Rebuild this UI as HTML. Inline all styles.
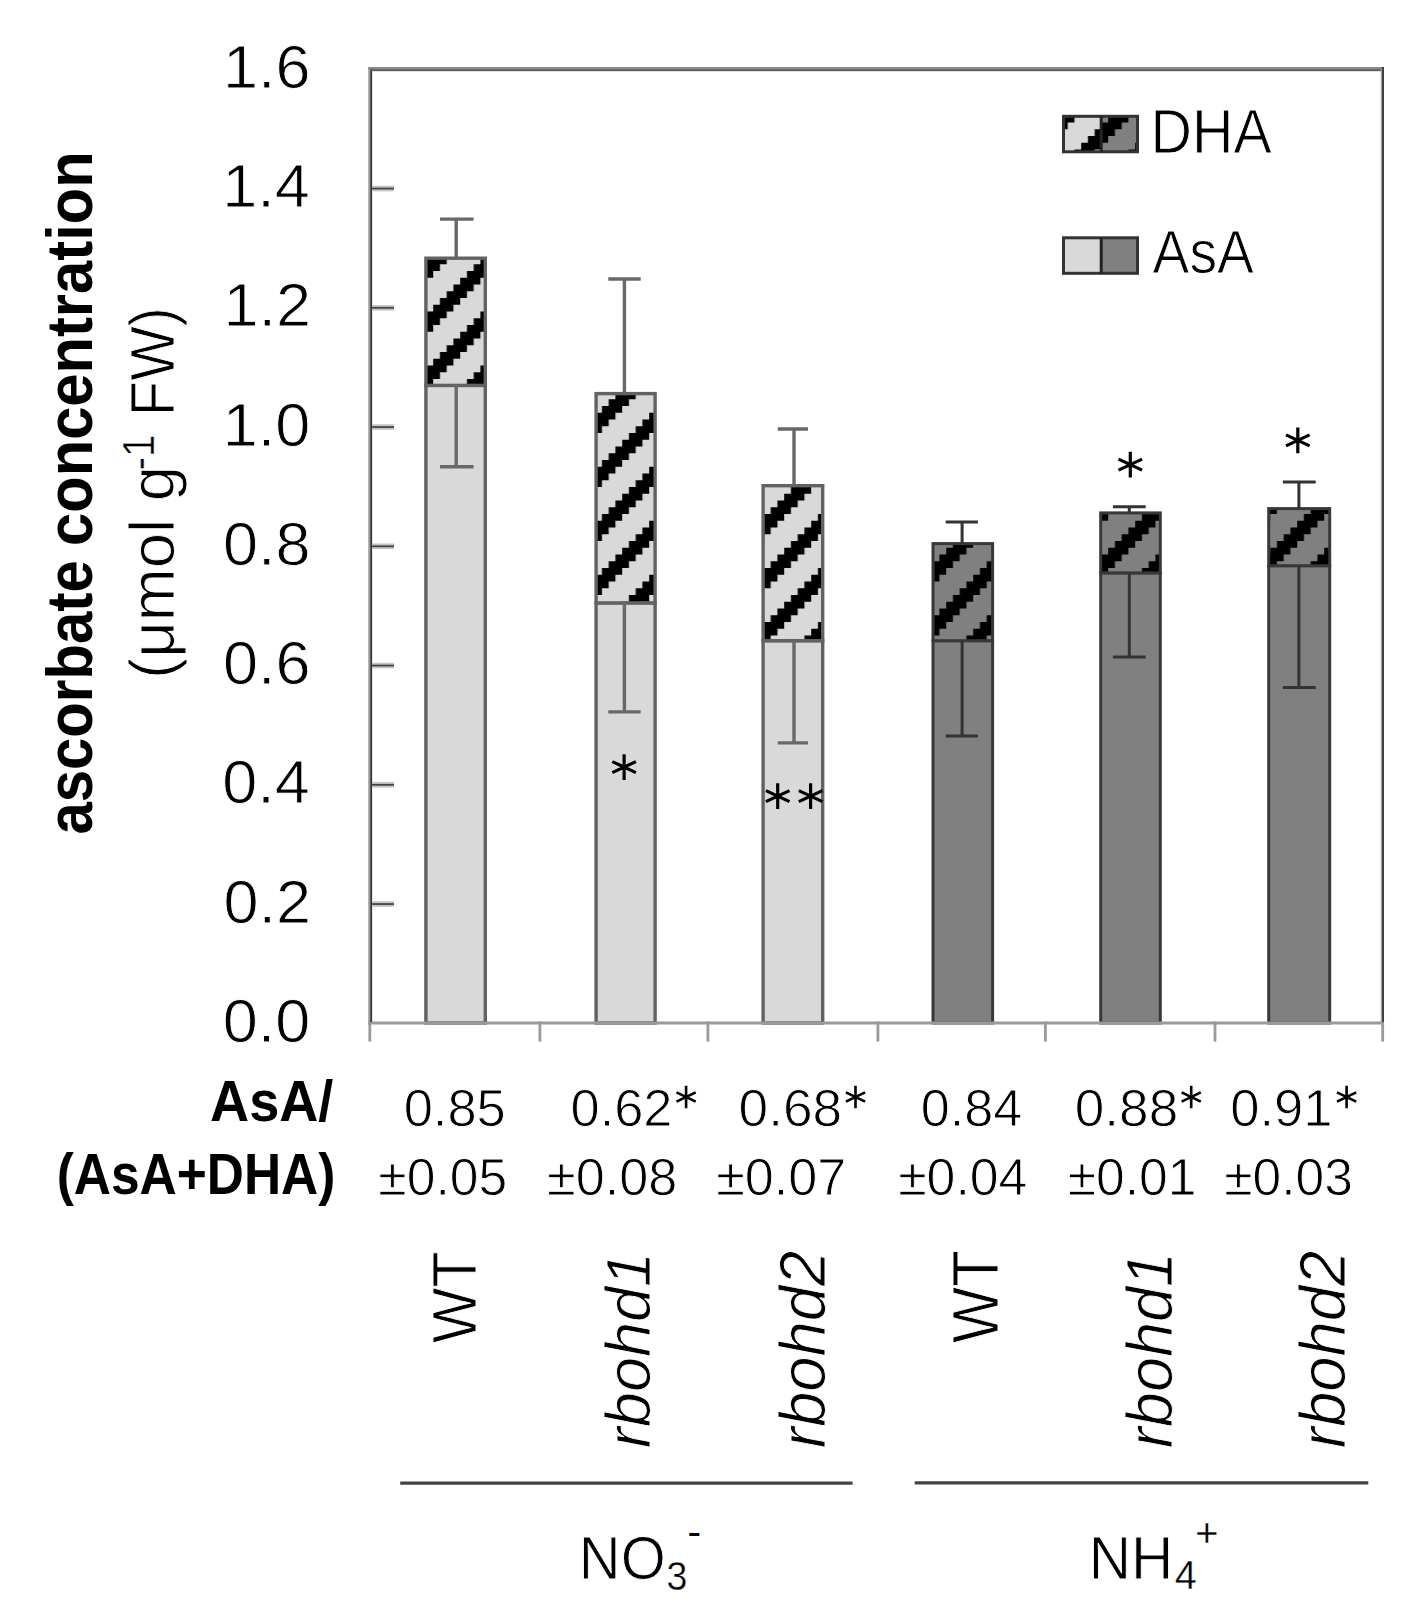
<!DOCTYPE html>
<html><head><meta charset="utf-8"><style>
html,body{margin:0;padding:0;background:#fff;}
svg{display:block;}
text{font-family:"Liberation Sans",sans-serif;font-kerning:none;font-variant-ligatures:none;}
</style></head><body>
<svg width="1414" height="1624" viewBox="0 0 1414 1624">
<rect width="1414" height="1624" fill="#fff"/>
<defs><pattern id="pl" patternUnits="userSpaceOnUse" x="1.2" y="1" width="54" height="54"><rect width="54" height="54" fill="#d9d9d9"/><path d="M13.50 -13.50L13.50 -6.75L6.75 -6.75L6.75 0.00L0.00 0.00L0.00 6.75L-6.75 6.75L-6.75 13.50L-13.50 13.50L-13.50 20.25L-20.25 20.25L-20.25 27.00L-27.00 27.00L-27.00 33.75L-33.75 33.75L-33.75 40.50L-40.50 40.50L-40.50 47.25L-47.25 47.25L-47.25 54.00L-54.00 54.00L-54.00 60.75L-60.75 60.75L-60.75 67.50L-67.50 67.50L-67.50 74.25L-87.75 74.25L-87.75 67.50L-81.00 67.50L-81.00 60.75L-74.25 60.75L-74.25 54.00L-67.50 54.00L-67.50 47.25L-60.75 47.25L-60.75 40.50L-54.00 40.50L-54.00 33.75L-47.25 33.75L-47.25 27.00L-40.50 27.00L-40.50 20.25L-33.75 20.25L-33.75 13.50L-27.00 13.50L-27.00 6.75L-20.25 6.75L-20.25 0.00L-13.50 0.00L-13.50 -6.75L-6.75 -6.75L-6.75 -13.50ZM67.50 -13.50L67.50 -6.75L60.75 -6.75L60.75 0.00L54.00 0.00L54.00 6.75L47.25 6.75L47.25 13.50L40.50 13.50L40.50 20.25L33.75 20.25L33.75 27.00L27.00 27.00L27.00 33.75L20.25 33.75L20.25 40.50L13.50 40.50L13.50 47.25L6.75 47.25L6.75 54.00L0.00 54.00L0.00 60.75L-6.75 60.75L-6.75 67.50L-13.50 67.50L-13.50 74.25L-33.75 74.25L-33.75 67.50L-27.00 67.50L-27.00 60.75L-20.25 60.75L-20.25 54.00L-13.50 54.00L-13.50 47.25L-6.75 47.25L-6.75 40.50L0.00 40.50L0.00 33.75L6.75 33.75L6.75 27.00L13.50 27.00L13.50 20.25L20.25 20.25L20.25 13.50L27.00 13.50L27.00 6.75L33.75 6.75L33.75 0.00L40.50 0.00L40.50 -6.75L47.25 -6.75L47.25 -13.50ZM121.50 -13.50L121.50 -6.75L114.75 -6.75L114.75 0.00L108.00 0.00L108.00 6.75L101.25 6.75L101.25 13.50L94.50 13.50L94.50 20.25L87.75 20.25L87.75 27.00L81.00 27.00L81.00 33.75L74.25 33.75L74.25 40.50L67.50 40.50L67.50 47.25L60.75 47.25L60.75 54.00L54.00 54.00L54.00 60.75L47.25 60.75L47.25 67.50L40.50 67.50L40.50 74.25L20.25 74.25L20.25 67.50L27.00 67.50L27.00 60.75L33.75 60.75L33.75 54.00L40.50 54.00L40.50 47.25L47.25 47.25L47.25 40.50L54.00 40.50L54.00 33.75L60.75 33.75L60.75 27.00L67.50 27.00L67.50 20.25L74.25 20.25L74.25 13.50L81.00 13.50L81.00 6.75L87.75 6.75L87.75 0.00L94.50 0.00L94.50 -6.75L101.25 -6.75L101.25 -13.50ZM175.50 -13.50L175.50 -6.75L168.75 -6.75L168.75 0.00L162.00 0.00L162.00 6.75L155.25 6.75L155.25 13.50L148.50 13.50L148.50 20.25L141.75 20.25L141.75 27.00L135.00 27.00L135.00 33.75L128.25 33.75L128.25 40.50L121.50 40.50L121.50 47.25L114.75 47.25L114.75 54.00L108.00 54.00L108.00 60.75L101.25 60.75L101.25 67.50L94.50 67.50L94.50 74.25L74.25 74.25L74.25 67.50L81.00 67.50L81.00 60.75L87.75 60.75L87.75 54.00L94.50 54.00L94.50 47.25L101.25 47.25L101.25 40.50L108.00 40.50L108.00 33.75L114.75 33.75L114.75 27.00L121.50 27.00L121.50 20.25L128.25 20.25L128.25 13.50L135.00 13.50L135.00 6.75L141.75 6.75L141.75 0.00L148.50 0.00L148.50 -6.75L155.25 -6.75L155.25 -13.50Z" fill="#000"/></pattern><pattern id="pd" patternUnits="userSpaceOnUse" x="1.2" y="1" width="54" height="54"><rect width="54" height="54" fill="#808080"/><path d="M13.50 -13.50L13.50 -6.75L6.75 -6.75L6.75 0.00L0.00 0.00L0.00 6.75L-6.75 6.75L-6.75 13.50L-13.50 13.50L-13.50 20.25L-20.25 20.25L-20.25 27.00L-27.00 27.00L-27.00 33.75L-33.75 33.75L-33.75 40.50L-40.50 40.50L-40.50 47.25L-47.25 47.25L-47.25 54.00L-54.00 54.00L-54.00 60.75L-60.75 60.75L-60.75 67.50L-67.50 67.50L-67.50 74.25L-87.75 74.25L-87.75 67.50L-81.00 67.50L-81.00 60.75L-74.25 60.75L-74.25 54.00L-67.50 54.00L-67.50 47.25L-60.75 47.25L-60.75 40.50L-54.00 40.50L-54.00 33.75L-47.25 33.75L-47.25 27.00L-40.50 27.00L-40.50 20.25L-33.75 20.25L-33.75 13.50L-27.00 13.50L-27.00 6.75L-20.25 6.75L-20.25 0.00L-13.50 0.00L-13.50 -6.75L-6.75 -6.75L-6.75 -13.50ZM67.50 -13.50L67.50 -6.75L60.75 -6.75L60.75 0.00L54.00 0.00L54.00 6.75L47.25 6.75L47.25 13.50L40.50 13.50L40.50 20.25L33.75 20.25L33.75 27.00L27.00 27.00L27.00 33.75L20.25 33.75L20.25 40.50L13.50 40.50L13.50 47.25L6.75 47.25L6.75 54.00L0.00 54.00L0.00 60.75L-6.75 60.75L-6.75 67.50L-13.50 67.50L-13.50 74.25L-33.75 74.25L-33.75 67.50L-27.00 67.50L-27.00 60.75L-20.25 60.75L-20.25 54.00L-13.50 54.00L-13.50 47.25L-6.75 47.25L-6.75 40.50L0.00 40.50L0.00 33.75L6.75 33.75L6.75 27.00L13.50 27.00L13.50 20.25L20.25 20.25L20.25 13.50L27.00 13.50L27.00 6.75L33.75 6.75L33.75 0.00L40.50 0.00L40.50 -6.75L47.25 -6.75L47.25 -13.50ZM121.50 -13.50L121.50 -6.75L114.75 -6.75L114.75 0.00L108.00 0.00L108.00 6.75L101.25 6.75L101.25 13.50L94.50 13.50L94.50 20.25L87.75 20.25L87.75 27.00L81.00 27.00L81.00 33.75L74.25 33.75L74.25 40.50L67.50 40.50L67.50 47.25L60.75 47.25L60.75 54.00L54.00 54.00L54.00 60.75L47.25 60.75L47.25 67.50L40.50 67.50L40.50 74.25L20.25 74.25L20.25 67.50L27.00 67.50L27.00 60.75L33.75 60.75L33.75 54.00L40.50 54.00L40.50 47.25L47.25 47.25L47.25 40.50L54.00 40.50L54.00 33.75L60.75 33.75L60.75 27.00L67.50 27.00L67.50 20.25L74.25 20.25L74.25 13.50L81.00 13.50L81.00 6.75L87.75 6.75L87.75 0.00L94.50 0.00L94.50 -6.75L101.25 -6.75L101.25 -13.50ZM175.50 -13.50L175.50 -6.75L168.75 -6.75L168.75 0.00L162.00 0.00L162.00 6.75L155.25 6.75L155.25 13.50L148.50 13.50L148.50 20.25L141.75 20.25L141.75 27.00L135.00 27.00L135.00 33.75L128.25 33.75L128.25 40.50L121.50 40.50L121.50 47.25L114.75 47.25L114.75 54.00L108.00 54.00L108.00 60.75L101.25 60.75L101.25 67.50L94.50 67.50L94.50 74.25L74.25 74.25L74.25 67.50L81.00 67.50L81.00 60.75L87.75 60.75L87.75 54.00L94.50 54.00L94.50 47.25L101.25 47.25L101.25 40.50L108.00 40.50L108.00 33.75L114.75 33.75L114.75 27.00L121.50 27.00L121.50 20.25L128.25 20.25L128.25 13.50L135.00 13.50L135.00 6.75L141.75 6.75L141.75 0.00L148.50 0.00L148.50 -6.75L155.25 -6.75L155.25 -13.50Z" fill="#000"/></pattern></defs>
<rect x="425.90" y="385.40" width="59.40" height="637.60" fill="#d9d9d9" stroke="#626262" stroke-width="3.4"/>
<rect x="425.90" y="258.20" width="59.40" height="127.20" fill="url(#pl)" stroke="#626262" stroke-width="3.4"/>
<path d="M456.20 258.20V219.10M440.00 219.10H473.60M456.20 385.40V466.80M440.00 466.80H473.60" stroke="#686868" stroke-width="3.4" fill="none"/>
<rect x="596.10" y="602.90" width="59.00" height="420.10" fill="#d9d9d9" stroke="#626262" stroke-width="3.4"/>
<rect x="596.10" y="393.60" width="59.00" height="209.30" fill="url(#pl)" stroke="#626262" stroke-width="3.4"/>
<path d="M624.40 393.60V279.00M608.30 279.00H640.70M624.40 602.90V711.90M608.30 711.90H640.70" stroke="#686868" stroke-width="3.4" fill="none"/>
<rect x="763.10" y="640.70" width="59.60" height="382.30" fill="#d9d9d9" stroke="#626262" stroke-width="3.4"/>
<rect x="763.10" y="485.70" width="59.60" height="155.00" fill="url(#pl)" stroke="#626262" stroke-width="3.4"/>
<path d="M794.00 485.70V429.00M777.80 429.00H808.00M794.00 640.70V742.90M777.80 742.90H808.00" stroke="#686868" stroke-width="3.4" fill="none"/>
<rect x="933.00" y="640.70" width="59.60" height="382.30" fill="#808080" stroke="#383838" stroke-width="3.0"/>
<rect x="933.00" y="543.60" width="59.60" height="97.10" fill="url(#pd)" stroke="#383838" stroke-width="3.0"/>
<path d="M962.10 543.60V522.10M945.70 522.10H977.90M962.10 640.70V736.10M945.70 736.10H977.90" stroke="#333" stroke-width="3.0" fill="none"/>
<rect x="1100.70" y="572.90" width="59.60" height="450.10" fill="#808080" stroke="#383838" stroke-width="3.0"/>
<rect x="1100.70" y="512.90" width="59.60" height="60.00" fill="url(#pd)" stroke="#383838" stroke-width="3.0"/>
<path d="M1129.30 512.90V506.70M1112.90 506.70H1145.70M1129.30 572.90V657.10M1112.90 657.10H1145.70" stroke="#333" stroke-width="3.0" fill="none"/>
<rect x="1268.70" y="565.70" width="61.00" height="457.30" fill="#808080" stroke="#383838" stroke-width="3.0"/>
<rect x="1268.70" y="508.60" width="61.00" height="57.10" fill="url(#pd)" stroke="#383838" stroke-width="3.0"/>
<path d="M1298.90 508.60V482.10M1282.90 482.10H1315.70M1298.90 565.70V687.40M1282.90 687.40H1315.70" stroke="#333" stroke-width="3.0" fill="none"/>
<rect x="368.20" y="1021.50" width="1015.80" height="3.00" fill="#9a9a9a"/>
<rect x="368.40" y="1021.50" width="2.80" height="20.10" fill="#9a9a9a"/>
<rect x="538.50" y="1021.50" width="2.80" height="20.10" fill="#9a9a9a"/>
<rect x="706.50" y="1021.50" width="2.80" height="20.10" fill="#9a9a9a"/>
<rect x="876.50" y="1021.50" width="2.80" height="20.10" fill="#9a9a9a"/>
<rect x="1044.00" y="1021.50" width="2.80" height="20.10" fill="#9a9a9a"/>
<rect x="1213.60" y="1021.50" width="2.80" height="20.10" fill="#9a9a9a"/>
<rect x="1381.30" y="1021.50" width="2.80" height="20.10" fill="#9a9a9a"/>
<rect x="368.20" y="67.00" width="2.00" height="955.00" fill="#a0a0a0"/>
<rect x="370.20" y="67.00" width="1.90" height="955.00" fill="#333"/>
<rect x="368.20" y="67.00" width="1015.80" height="2.10" fill="#8a8a8a"/>
<rect x="370.20" y="69.10" width="1013.80" height="2.10" fill="#5e5e5e"/>
<rect x="1380.80" y="69.10" width="1.10" height="952.90" fill="#aaa"/>
<rect x="1381.90" y="67.00" width="2.10" height="955.00" fill="#404040"/>
<rect x="372.10" y="185.75" width="21.90" height="5.60" fill="#c4c4c4"/>
<rect x="372.10" y="187.70" width="21.90" height="1.70" fill="#404040"/>
<rect x="372.10" y="305.00" width="21.90" height="5.60" fill="#c4c4c4"/>
<rect x="372.10" y="306.95" width="21.90" height="1.70" fill="#404040"/>
<rect x="372.10" y="424.25" width="21.90" height="5.60" fill="#c4c4c4"/>
<rect x="372.10" y="426.20" width="21.90" height="1.70" fill="#404040"/>
<rect x="372.10" y="543.50" width="21.90" height="5.60" fill="#c4c4c4"/>
<rect x="372.10" y="545.45" width="21.90" height="1.70" fill="#404040"/>
<rect x="372.10" y="662.75" width="21.90" height="5.60" fill="#c4c4c4"/>
<rect x="372.10" y="664.70" width="21.90" height="1.70" fill="#404040"/>
<rect x="372.10" y="782.00" width="21.90" height="5.60" fill="#c4c4c4"/>
<rect x="372.10" y="783.95" width="21.90" height="1.70" fill="#404040"/>
<rect x="372.10" y="901.25" width="21.90" height="5.60" fill="#c4c4c4"/>
<rect x="372.10" y="903.20" width="21.90" height="1.70" fill="#404040"/>
<path d="M624.10 754.30V779.90M612.30 761.60L635.90 772.60M612.30 772.60L635.90 761.60" stroke="#000" stroke-width="3.20" fill="none"/>
<path d="M777.70 783.30V808.90M765.90 790.60L789.50 801.60M765.90 801.60L789.50 790.60" stroke="#000" stroke-width="3.20" fill="none"/>
<path d="M810.60 783.30V808.90M798.80 790.60L822.40 801.60M798.80 801.60L822.40 790.60" stroke="#000" stroke-width="3.20" fill="none"/>
<path d="M1130.30 451.80V477.40M1118.50 459.10L1142.10 470.10M1118.50 470.10L1142.10 459.10" stroke="#000" stroke-width="3.20" fill="none"/>
<path d="M1297.80 427.60V453.20M1286.00 434.90L1309.60 445.90M1286.00 445.90L1309.60 434.90" stroke="#000" stroke-width="3.20" fill="none"/>
<rect x="1063.50" y="116.30" width="37.70" height="35.50" fill="url(#pl)"/>
<rect x="1101.20" y="116.30" width="36.30" height="35.50" fill="url(#pd)"/>
<rect x="1063.50" y="116.30" width="74.00" height="35.50" fill="none" stroke="#333" stroke-width="3"/>
<path d="M1101.20 116.30V151.80" stroke="#222" stroke-width="3"/>
<rect x="1063.50" y="237.80" width="37.70" height="35.50" fill="#d9d9d9"/>
<rect x="1101.20" y="237.80" width="36.30" height="35.50" fill="#808080"/>
<rect x="1063.50" y="237.80" width="74.00" height="35.50" fill="none" stroke="#333" stroke-width="3"/>
<path d="M1101.20 237.80V273.30" stroke="#222" stroke-width="3"/>
<text transform="translate(1150.59,152.50) scale(0.9221,1)" font-size="62.21" font-weight="normal" font-style="normal" fill="#000" stroke="#fff" stroke-width="0.90" stroke-linejoin="round">DHA</text>
<text transform="translate(1152.59,273.40) scale(0.8997,1)" font-size="61.34" font-weight="normal" font-style="normal" fill="#000" stroke="#fff" stroke-width="0.90" stroke-linejoin="round">AsA</text>
<text transform="translate(223.05,87.80) scale(1.0300,1)" font-size="61.19" font-weight="normal" font-style="normal" fill="#000" stroke="#fff" stroke-width="0.90" stroke-linejoin="round">1.6</text>
<text transform="translate(222.13,207.05) scale(1.0300,1)" font-size="61.19" font-weight="normal" font-style="normal" fill="#000" stroke="#fff" stroke-width="0.90" stroke-linejoin="round">1.4</text>
<text transform="translate(223.45,326.30) scale(1.0300,1)" font-size="61.19" font-weight="normal" font-style="normal" fill="#000" stroke="#fff" stroke-width="0.90" stroke-linejoin="round">1.2</text>
<text transform="translate(222.74,445.55) scale(1.0300,1)" font-size="61.19" font-weight="normal" font-style="normal" fill="#000" stroke="#fff" stroke-width="0.90" stroke-linejoin="round">1.0</text>
<text transform="translate(223.02,564.80) scale(1.0300,1)" font-size="61.19" font-weight="normal" font-style="normal" fill="#000" stroke="#fff" stroke-width="0.90" stroke-linejoin="round">0.8</text>
<text transform="translate(223.05,684.05) scale(1.0300,1)" font-size="61.19" font-weight="normal" font-style="normal" fill="#000" stroke="#fff" stroke-width="0.90" stroke-linejoin="round">0.6</text>
<text transform="translate(222.13,803.30) scale(1.0300,1)" font-size="61.19" font-weight="normal" font-style="normal" fill="#000" stroke="#fff" stroke-width="0.90" stroke-linejoin="round">0.4</text>
<text transform="translate(223.45,922.55) scale(1.0300,1)" font-size="61.19" font-weight="normal" font-style="normal" fill="#000" stroke="#fff" stroke-width="0.90" stroke-linejoin="round">0.2</text>
<text transform="translate(222.74,1041.80) scale(1.0300,1)" font-size="61.19" font-weight="normal" font-style="normal" fill="#000" stroke="#fff" stroke-width="0.90" stroke-linejoin="round">0.0</text>
<text transform="translate(91.80,834.60) rotate(-90) scale(0.8962,1)" font-size="64.83" font-weight="bold" font-style="normal" fill="#000">ascorbate</text>
<text transform="translate(91.80,545.93) rotate(-90) scale(0.9207,1)" font-size="64.83" font-weight="bold" font-style="normal" fill="#000">concentration</text>
<text transform="translate(173.60,678.94) rotate(-90) scale(1.0021,1)" font-size="63.37" font-weight="normal" font-style="normal" fill="#000" stroke="#fff" stroke-width="0.90" stroke-linejoin="round">(μmol g</text>
<text transform="translate(154.30,470.40) rotate(-90) scale(0.9156,1)" font-size="44.19" font-weight="normal" font-style="normal" fill="#000" stroke="#fff" stroke-width="0.50" stroke-linejoin="round">-1</text>
<text transform="translate(173.60,416.14) rotate(-90) scale(0.9113,1)" font-size="63.37" font-weight="normal" font-style="normal" fill="#000" stroke="#fff" stroke-width="0.90" stroke-linejoin="round">FW)</text>
<text transform="translate(210.05,1121.40) scale(0.9314,1)" font-size="58.14" font-weight="bold" font-style="normal" fill="#000">AsA/</text>
<text transform="translate(56.74,1194.30) scale(0.8850,1)" font-size="58.14" font-weight="bold" font-style="normal" fill="#000">(AsA+DHA)</text>
<path d="M686.10 1085.70V1108.30M676.50 1092.40L695.70 1101.60M676.50 1101.60L695.70 1092.40" stroke="#000" stroke-width="2.60" fill="none"/>
<path d="M855.50 1085.70V1108.30M845.90 1092.40L865.10 1101.60M845.90 1101.60L865.10 1092.40" stroke="#000" stroke-width="2.60" fill="none"/>
<path d="M1191.20 1085.70V1108.30M1181.60 1092.40L1200.80 1101.60M1181.60 1101.60L1200.80 1092.40" stroke="#000" stroke-width="2.60" fill="none"/>
<path d="M1346.60 1085.70V1108.30M1337.00 1092.40L1356.20 1101.60M1337.00 1101.60L1356.20 1092.40" stroke="#000" stroke-width="2.60" fill="none"/>
<text transform="translate(403.65,1125.90) scale(1.0209,1)" font-size="51.41" font-weight="normal" font-style="normal" fill="#000" stroke="#fff" stroke-width="0.90" stroke-linejoin="round">0.85</text>
<text transform="translate(570.55,1125.90) scale(1.0192,1)" font-size="51.41" font-weight="normal" font-style="normal" fill="#000" stroke="#fff" stroke-width="0.90" stroke-linejoin="round">0.62</text>
<text transform="translate(738.62,1125.90) scale(1.0353,1)" font-size="51.41" font-weight="normal" font-style="normal" fill="#000" stroke="#fff" stroke-width="0.90" stroke-linejoin="round">0.68</text>
<text transform="translate(920.76,1125.90) scale(1.0150,1)" font-size="51.41" font-weight="normal" font-style="normal" fill="#000" stroke="#fff" stroke-width="0.90" stroke-linejoin="round">0.84</text>
<text transform="translate(1074.83,1125.90) scale(1.0332,1)" font-size="51.41" font-weight="normal" font-style="normal" fill="#000" stroke="#fff" stroke-width="0.90" stroke-linejoin="round">0.88</text>
<text transform="translate(1230.14,1125.90) scale(1.0236,1)" font-size="51.41" font-weight="normal" font-style="normal" fill="#000" stroke="#fff" stroke-width="0.90" stroke-linejoin="round">0.91</text>
<text transform="translate(378.36,1194.50) scale(1.0041,1)" font-size="51.41" font-weight="normal" font-style="normal" fill="#000" stroke="#fff" stroke-width="0.90" stroke-linejoin="round">±0.05</text>
<text transform="translate(547.04,1194.50) scale(1.0152,1)" font-size="51.41" font-weight="normal" font-style="normal" fill="#000" stroke="#fff" stroke-width="0.90" stroke-linejoin="round">±0.08</text>
<text transform="translate(716.14,1194.50) scale(1.0156,1)" font-size="51.41" font-weight="normal" font-style="normal" fill="#000" stroke="#fff" stroke-width="0.90" stroke-linejoin="round">±0.07</text>
<text transform="translate(898.16,1194.50) scale(1.0077,1)" font-size="51.41" font-weight="normal" font-style="normal" fill="#000" stroke="#fff" stroke-width="0.90" stroke-linejoin="round">±0.04</text>
<text transform="translate(1067.66,1194.50) scale(1.0045,1)" font-size="51.41" font-weight="normal" font-style="normal" fill="#000" stroke="#fff" stroke-width="0.90" stroke-linejoin="round">±0.01</text>
<text transform="translate(1224.16,1194.50) scale(1.0033,1)" font-size="51.41" font-weight="normal" font-style="normal" fill="#000" stroke="#fff" stroke-width="0.90" stroke-linejoin="round">±0.03</text>
<text transform="translate(476.00,1343.16) rotate(-90) scale(0.9351,1)" font-size="63.08" font-weight="normal" font-style="normal" fill="#000" stroke="#fff" stroke-width="0.90" stroke-linejoin="round">WT</text>
<text transform="translate(650.15,1448.15) rotate(-90) scale(0.9924,1)" font-size="63.55" font-weight="normal" font-style="italic" fill="#000" stroke="#fff" stroke-width="0.90" stroke-linejoin="round">rbohd1</text>
<text transform="translate(825.13,1448.15) rotate(-90) scale(0.9745,1)" font-size="65.05" font-weight="normal" font-style="italic" fill="#000" stroke="#fff" stroke-width="0.90" stroke-linejoin="round">rbohd2</text>
<text transform="translate(998.40,1343.16) rotate(-90) scale(0.9232,1)" font-size="64.68" font-weight="normal" font-style="normal" fill="#000" stroke="#fff" stroke-width="0.90" stroke-linejoin="round">WT</text>
<text transform="translate(1171.63,1448.15) rotate(-90) scale(0.9696,1)" font-size="65.05" font-weight="normal" font-style="italic" fill="#000" stroke="#fff" stroke-width="0.90" stroke-linejoin="round">rbohd1</text>
<text transform="translate(1345.33,1448.15) rotate(-90) scale(0.9745,1)" font-size="65.05" font-weight="normal" font-style="italic" fill="#000" stroke="#fff" stroke-width="0.90" stroke-linejoin="round">rbohd2</text>
<path d="M400.2 1483.2H852.6M914.7 1482.9H1368.3" stroke="#444" stroke-width="3.2"/>
<text transform="translate(578.85,1578.60) scale(0.9595,1)" font-size="60.32" font-weight="normal" font-style="normal" fill="#000" stroke="#fff" stroke-width="0.90" stroke-linejoin="round">NO</text>
<text transform="translate(666.47,1589.61) scale(0.9294,1)" font-size="40.40" font-weight="normal" font-style="normal" fill="#000" stroke="#fff" stroke-width="0.40" stroke-linejoin="round">3</text>
<text transform="translate(687.48,1544.50) scale(1.0667,1)" font-size="38.40" font-weight="normal" font-style="normal" fill="#000">-</text>
<text transform="translate(1088.80,1578.60) scale(0.9708,1)" font-size="60.32" font-weight="normal" font-style="normal" fill="#000" stroke="#fff" stroke-width="0.90" stroke-linejoin="round">NH</text>
<text transform="translate(1174.79,1589.30) scale(0.9787,1)" font-size="40.55" font-weight="normal" font-style="normal" fill="#000" stroke="#fff" stroke-width="0.40" stroke-linejoin="round">4</text>
<text transform="translate(1195.16,1547.19) scale(0.9718,1)" font-size="40.88" font-weight="normal" font-style="normal" fill="#000" stroke="#fff" stroke-width="0.30" stroke-linejoin="round">+</text>
</svg>
</body></html>
